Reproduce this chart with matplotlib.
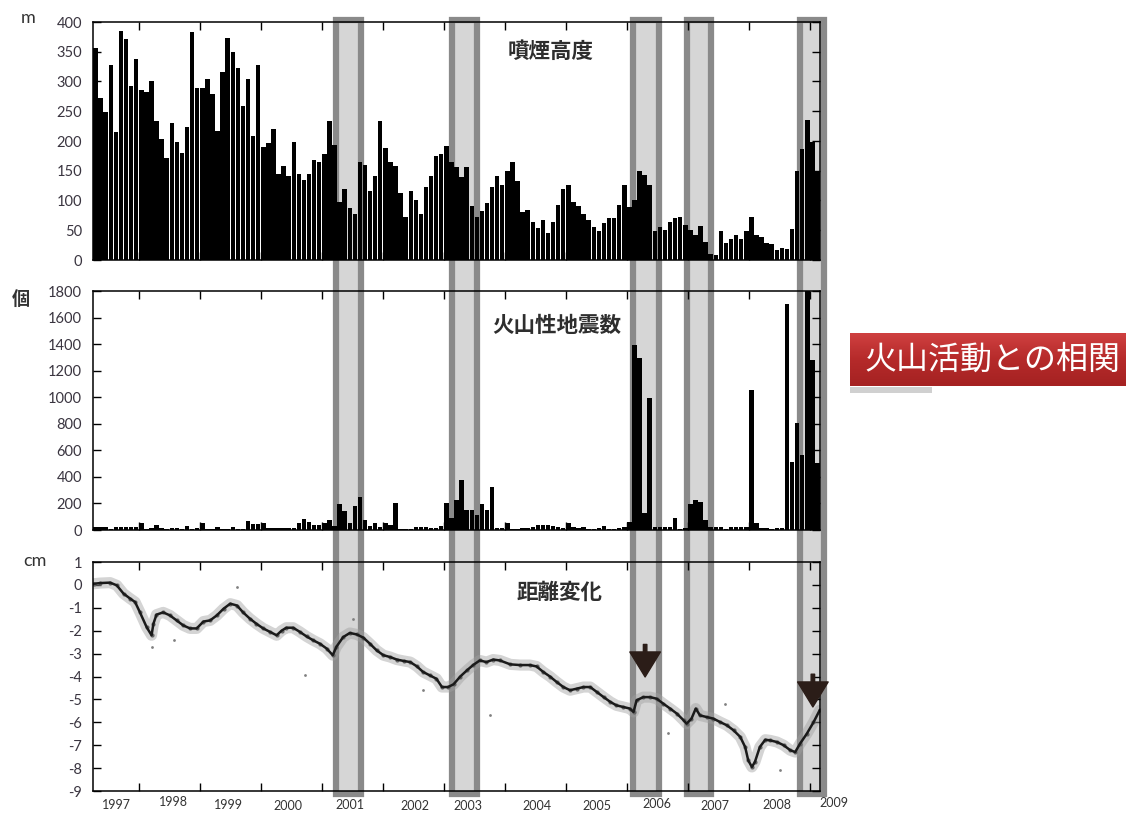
import numpy as np
import matplotlib
matplotlib.use('Agg')
import matplotlib.pyplot as plt
from matplotlib import transforms
from matplotlib.patches import Rectangle
from matplotlib.colors import LinearSegmentedColormap

plt.rcParams['font.family'] = ['Lato', 'Noto Sans CJK JP', 'DejaVu Sans']
plt.rcParams['axes.unicode_minus'] = False

# monthly plume height (m), from April 1997
smoke_height = [356, 273, 248, 328, 215, 385, 371, 292, 337, 286,
                282, 301, 234, 203, 172, 230, 199, 180, 224, 384,
                289, 289, 304, 279, 217, 316, 373, 350, 322, 258,
                304, 209, 328, 190, 196, 221, 144, 158, 141, 199,
                144, 134, 144, 168, 165, 178, 234, 193, 98, 119,
                87, 77, 165, 160, 116, 141, 234, 188, 165, 158,
                113, 73, 116, 101, 77, 122, 141, 175, 178, 192, 165,
                156, 139, 157, 90, 72, 83, 96, 122, 142, 126,
                150, 165, 132, 81, 84, 64, 53, 67, 46, 64,
                92, 119, 126, 98, 91, 77, 68, 55, 49, 63,
                70, 70, 92, 126, 89, 101, 150, 143, 126, 49,
                56, 50, 64, 70, 73, 59, 50, 42, 57, 31,
                10, 8, 49, 29, 36, 42, 36, 49, 73, 42,
                39, 28, 27, 16, 21, 18, 52, 150, 186, 235,
                199, 150]

# monthly count of volcanic earthquakes
quake_count = [25, 25, 25, 10, 25, 25, 25, 20, 20, 55,
               10, 15, 40, 12, 10, 12, 12, 10, 30, 10,
               12, 55, 10, 5, 20, 8, 10, 25, 8, 8,
               70, 45, 45, 50, 15, 12, 12, 12, 15, 15,
               50, 80, 60, 40, 40, 55, 75, 30, 196, 145,
               55, 181, 251, 75, 30, 55, 20, 55, 40, 206,
               8, 8, 10, 25, 20, 25, 15, 15, 30, 206, 88,
               226, 376, 151, 151, 113, 196, 151, 321, 12, 15,
               55, 10, 10, 15, 15, 20, 37, 37, 37, 30,
               20, 15, 50, 20, 15, 20, 10, 10, 15, 30,
               10, 10, 15, 20, 62, 1393, 1293, 125, 992, 25,
               25, 25, 25, 88, 10, 12, 196, 226, 213, 75,
               25, 25, 20, 10, 20, 20, 25, 20, 1054, 55,
               12, 12, 10, 12, 15, 1702, 514, 803, 565, 1800,
               1280, 502]

# baseline length change (cm)
dist_year = [1997.26, 1997.37, 1997.53, 1997.64, 1997.75, 1997.86, 1997.94,
             1998.02, 1998.13, 1998.21, 1998.24, 1998.29, 1998.40, 1998.51,
             1998.62, 1998.73, 1998.84, 1998.95, 1999.06, 1999.17, 1999.28,
             1999.39, 1999.50, 1999.61, 1999.71, 1999.82, 1999.93, 2000.04,
             2000.15, 2000.26, 2000.34, 2000.42, 2000.53, 2000.64, 2000.75,
             2000.86, 2000.97, 2001.08, 2001.18, 2001.24, 2001.35, 2001.46,
             2001.57, 2001.68, 2001.79, 2001.90, 2002.01, 2002.12, 2002.23,
             2002.34, 2002.45, 2002.56, 2002.66, 2002.77, 2002.88, 2002.97,
             2003.07, 2003.16, 2003.27, 2003.38, 2003.48, 2003.59, 2003.70,
             2003.81, 2003.92, 2004.09, 2004.25, 2004.41, 2004.52, 2004.63,
             2004.74, 2004.85, 2004.96, 2005.07, 2005.18, 2005.29, 2005.40,
             2005.51, 2005.62, 2005.73, 2005.83, 2005.94, 2006.05, 2006.11,
             2006.16, 2006.27, 2006.38, 2006.49, 2006.60, 2006.71, 2006.82,
             2006.93, 2006.98, 2007.06, 2007.13, 2007.20, 2007.31, 2007.42,
             2007.53, 2007.64, 2007.75, 2007.86, 2007.94, 2007.99, 2008.05,
             2008.10, 2008.18, 2008.27, 2008.35, 2008.46, 2008.57, 2008.68,
             2008.76, 2008.84, 2008.95, 2009.06, 2009.16]
dist_cm = [0.05, 0.08, 0.1, -0.02, -0.38, -0.6, -0.75,
           -1.2, -1.85, -2.2, -1.7, -1.3, -1.2, -1.33,
           -1.55, -1.77, -1.9, -1.9, -1.6, -1.55, -1.33,
           -1.04, -0.82, -0.9, -1.2, -1.47, -1.7, -1.9,
           -2.05, -2.2, -2.0, -1.87, -1.87, -2.05, -2.25,
           -2.42, -2.57, -2.78, -3.07, -2.7, -2.28, -2.1,
           -2.16, -2.3, -2.57, -2.86, -3.07, -3.15, -3.26,
           -3.32, -3.37, -3.56, -3.8, -3.95, -4.1, -4.46,
           -4.46, -4.34, -4.0, -3.73, -3.5, -3.3, -3.37,
           -3.26, -3.3, -3.47, -3.5, -3.5, -3.56, -3.8,
           -4.0, -4.24, -4.46, -4.6, -4.53, -4.46, -4.46,
           -4.68, -4.9, -5.11, -5.26, -5.33, -5.4, -5.55,
           -5.04, -4.9, -4.9, -4.97, -5.19, -5.4, -5.62,
           -5.91, -6.06, -5.84, -5.4, -5.7, -5.77, -5.84,
           -5.99, -6.13, -6.35, -6.64, -7.08, -7.66, -7.95,
           -7.73, -7.08, -6.76, -6.79, -6.86, -7.0, -7.22,
           -7.3, -6.93, -6.5, -6.0, -5.48]

# scattered single readings away from the trend
outlier_year = [1998.21, 1998.57, 1999.61, 2000.73, 2001.52, 2002.66,
                2003.75, 2006.68, 2007.61, 2008.51]
outlier_cm = [-2.71, -2.42, -0.09, -3.95, -1.47, -4.6, -5.7, -6.47, -5.18, -8.1]

# periods of heightened activity
band_start = [2001.23, 2003.14, 2006.10, 2006.99, 2008.84]
band_end = [2001.64, 2003.545, 2006.53, 2007.38, 2009.23]

# arrows marking the 2006 and 2009 extension
arrow_year = [2006.30, 2009.05]
arrow_tip = [-4.02, -5.33]
arrow_tail = [-2.6, -3.9]

year_labels = list(range(1997, 2010))

start = 1997 + 3 / 12
months = start + (np.arange(len(smoke_height)) + 0.5) / 12
x_end = start + len(smoke_height) / 12

fig = plt.figure(figsize=(11.26, 8.13), dpi=100)
L, W = 93 / 1126, 727 / 1126
ax1 = fig.add_axes([L, 1 - 260 / 813, W, 238 / 813])
ax2 = fig.add_axes([L, 1 - 530 / 813, W, 239 / 813])
ax3 = fig.add_axes([L, 1 - 791 / 813, W, 229 / 813])


def style(ax, ylim, yticks):
    ax.set_facecolor('none')
    ax.set_xlim(start, x_end)
    ax.set_ylim(*ylim)
    ax.set_yticks(yticks)
    ax.set_xticks(range(1998, 2010))
    ax.tick_params(direction='in', length=6, width=1, top=True, right=True,
                   labelbottom=False, labelsize=10.5, labelcolor='#3a3540', pad=8)
    for s in ax.spines.values():
        s.set_linewidth(1.1)


ax1.bar(months, smoke_height, width=0.88 / 12, color='black', linewidth=0)
style(ax1, (0, 400), range(0, 401, 50))

ax2.bar(months, quake_count, width=0.88 / 12, color='black', linewidth=0)
style(ax2, (0, 1800), range(0, 1801, 200))

ax3.plot(dist_year, dist_cm, color='#a0a0a0', lw=8, alpha=0.45, solid_capstyle='round')
ax3.plot(dist_year, dist_cm, ls='none', marker='.', ms=4, color='#666666')
ax3.plot(dist_year, dist_cm, color='#1a1a1a', lw=1.8)
ax3.scatter(outlier_year, outlier_cm, s=4, color='#808080', linewidths=0)
style(ax3, (-9, 1), range(-9, 2))

for xa, tip, tail in zip(arrow_year, arrow_tip, arrow_tail):
    ax3.annotate('', xy=(xa, tip), xytext=(xa, tail), annotation_clip=False,
                 arrowprops=dict(facecolor='#2b1d18', edgecolor='#2b1d18',
                                 width=2.5, headwidth=22, headlength=18, shrink=0))

# shaded activity periods spanning all three panels
band_tr = transforms.blended_transform_factory(ax3.transData, fig.transFigure)
for b0, b1 in zip(band_start, band_end):
    fig.add_artist(Rectangle((b0, 0.0234), b1 - b0, 0.952, transform=band_tr,
                             facecolor='#d6d6d6', edgecolor='#8a8a8a',
                             linewidth=4.5, zorder=-1))

# panel titles
cjk = ['Noto Sans CJK JP', 'DejaVu Sans']
title_kw = dict(family=cjk, fontsize=15.5, fontweight='bold', color='#2e2e2e',
                ha='center', va='center')
ax1.text(0.63, 0.878, '噴煙高度', transform=ax1.transAxes, **title_kw)
ax2.text(0.638, 0.854, '火山性地震数', transform=ax2.transAxes, **title_kw)
ax3.text(0.642, 0.869, '距離変化', transform=ax3.transAxes, **title_kw)

# unit labels
fig.text(28 / 1126, 1 - 18 / 813, 'm', fontsize=13, color='#333333', ha='center', va='center')
fig.text(21 / 1126, 1 - 299 / 813, '個', family=cjk, fontsize=13, color='#333333',
         ha='center', va='center', fontweight='bold')
fig.text(35 / 1126, 1 - 561 / 813, 'cm', fontsize=13, color='#333333', ha='center', va='center')

# year labels under the bottom panel
label_x = [1997.64, 1998.57, 1999.47, 2000.45, 2001.46, 2002.53, 2003.40,
           2004.52, 2005.51, 2006.49, 2007.45, 2008.46, 2009.39]
label_y = [804.5, 801.5, 804.5, 805.5, 804.5, 806, 805.5, 805.5, 806, 803.5, 806, 804.5, 802.5]
lab_tr = transforms.blended_transform_factory(ax3.transData, fig.transFigure)
for yr, lx, ly in zip(year_labels, label_x, label_y):
    fig.text(lx, 1 - ly / 813, str(yr), transform=lab_tr, fontsize=9,
             color='#333333', ha='center', va='center')

# red caption box
box = fig.add_axes([850 / 1126, 1 - 386 / 813, 276 / 1126, 53 / 813])
grad = LinearSegmentedColormap.from_list('red_grad', ['#cf4040', '#b52a2a', '#a52222'])
box.imshow(np.linspace(0, 1, 64).reshape(-1, 1), aspect='auto', cmap=grad,
           extent=(0, 1, 0, 1))
box.set_axis_off()
box.text(0.054, 0.5, '火山活動との相関', family=cjk, fontsize=23, color='white',
         ha='left', va='center', transform=box.transAxes)
fig.add_artist(Rectangle((850 / 1126, 1 - 393 / 813), 82 / 1126, 6 / 813,
                         transform=fig.transFigure, facecolor='#d0d0d0',
                         edgecolor='none'))

fig.savefig('out.png', dpi=100)
